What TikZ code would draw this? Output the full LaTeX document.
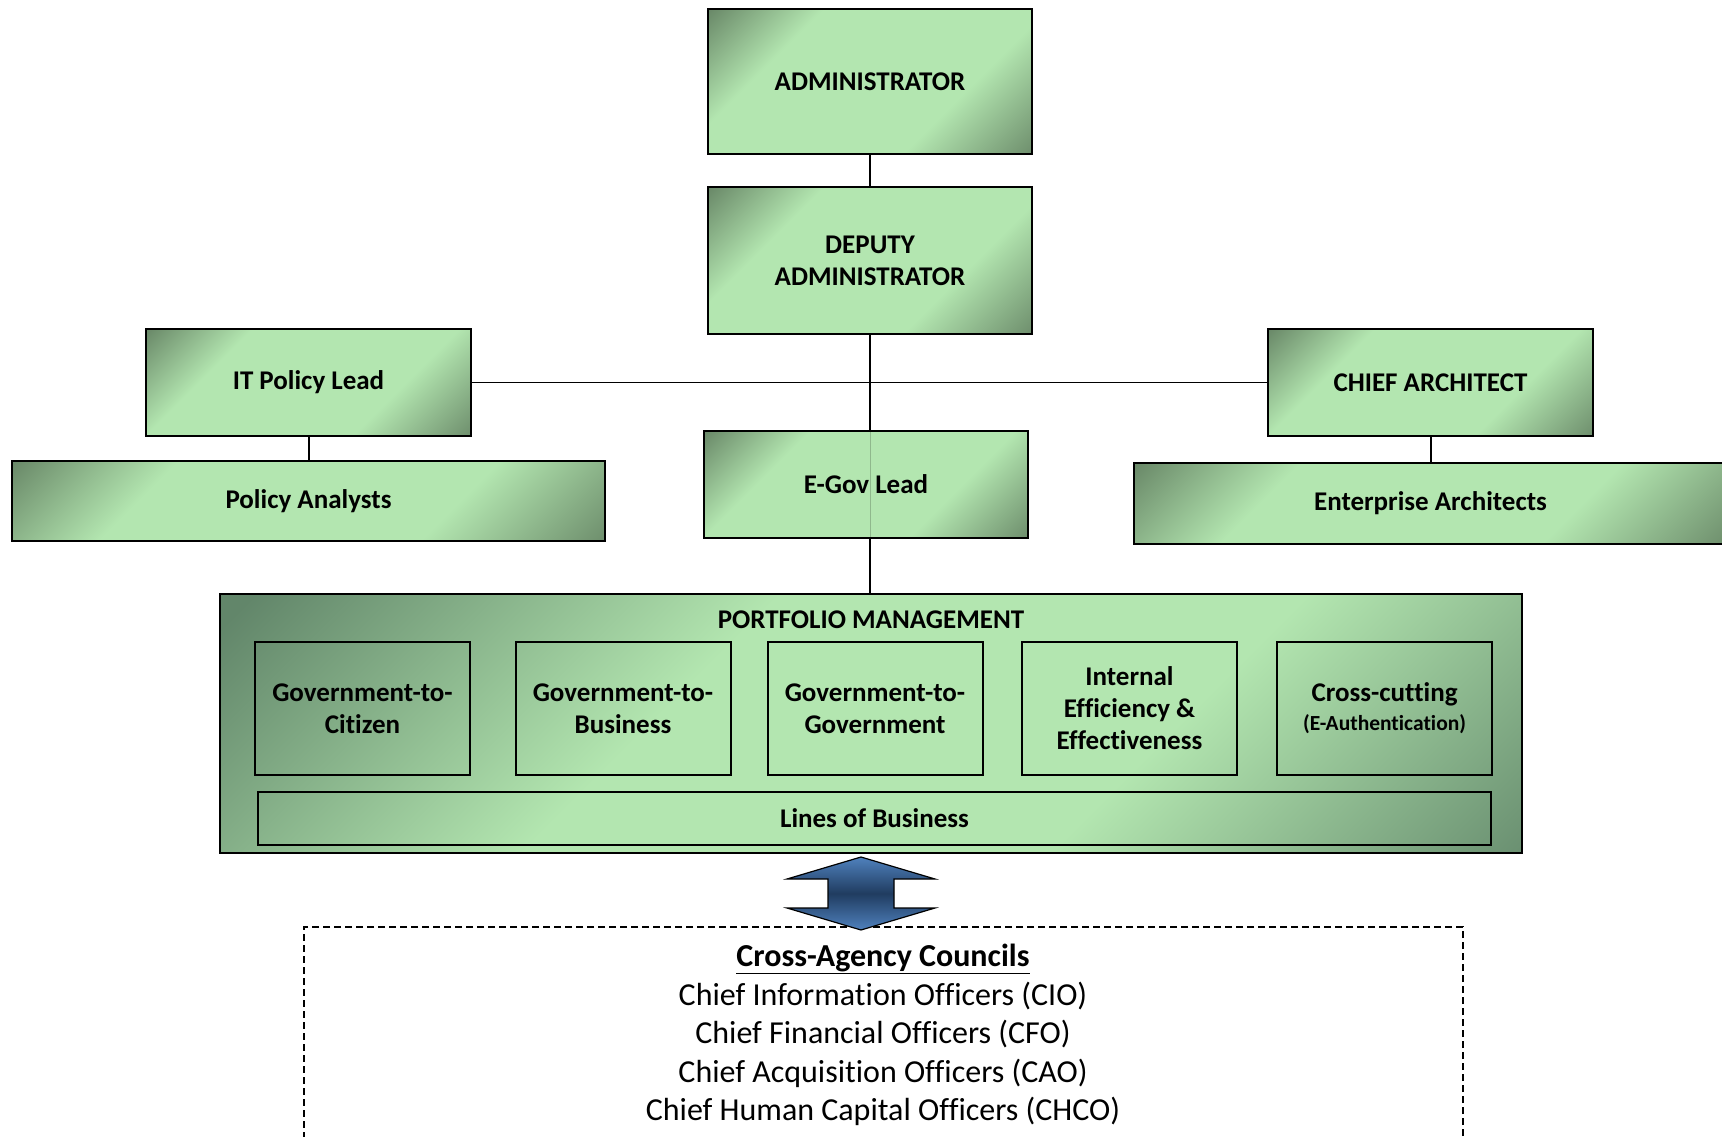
\documentclass[tikz,border=0pt]{standalone}
\usepackage{fontspec}
\setmainfont{Carlito}[Ligatures=NoCommon]
\usetikzlibrary{positioning, calc, backgrounds}

\definecolor{boxLight} {HTML}{B3E6B0}
\definecolor{boxDark}  {HTML}{5E7A5D}
\definecolor{pmDark}   {HTML}{62866A}
\definecolor{arrowBlue}{HTML}{4F81BD}
\definecolor{arrowDeep}{HTML}{203C60}

\pgfdeclarehorizontalshading{orgshade}{100bp}{%
  color(0bp)=(boxDark); color(12bp)=(boxDark); color(32bp)=(boxLight);
  color(66bp)=(boxLight); color(90bp)=(boxDark); color(100bp)=(boxDark)}
\pgfdeclarehorizontalshading{pmshade}{100bp}{%
  color(0bp)=(pmDark); color(16bp)=(pmDark); color(40bp)=(boxLight);
  color(64bp)=(boxLight); color(88bp)=(pmDark); color(100bp)=(pmDark)}
\pgfdeclareverticalshading{arrowshade}{100bp}{%
  color(0bp)=(arrowBlue); color(25bp)=(arrowBlue); color(50bp)=(arrowDeep);
  color(75bp)=(arrowBlue); color(100bp)=(arrowBlue)}

\tikzset{
  orgbox/.style={draw=black, line width=2pt, shading=orgshade, shading angle=-45,
    font=\bfseries\fontsize{27}{32}\selectfont, align=center, inner sep=0pt},
  subbox/.style={draw=black, line width=2pt, align=center, inner sep=0pt,
    font=\bfseries\fontsize{27}{32}\selectfont, minimum width=215pt, minimum height=133pt},
  link/.style={line width=2pt, draw=black},
}

\begin{document}
\begin{tikzpicture}[x=1pt, y=-1pt]
  \useasboundingbox (0,0) rectangle (1722,1137);
  \clip (0,0) rectangle (1722,1137);

  % top of the chart
  \node[orgbox, minimum width=324pt, minimum height=145pt] (admin) at (870, 81.5) {ADMINISTRATOR};
  \node[orgbox, minimum width=324pt, minimum height=147pt] (deputy) at (870, 260.5) {DEPUTY\\ADMINISTRATOR};

  % staff leads
  \node[orgbox, minimum width=325pt, minimum height=107pt] (itlead) at (308.5, 382.5) {IT Policy Lead};
  \node[orgbox, minimum width=593pt, minimum height=80pt] (analysts) at (308.5, 501) {Policy Analysts};
  \node[orgbox, minimum width=325pt, minimum height=107pt] (chief) at (1430.5, 382.5) {CHIEF ARCHITECT};
  \node[orgbox, minimum width=593pt, minimum height=81pt] (enterprise) at (1430.5, 503.5) {Enterprise Architects};

  % portfolio management
  \node[draw=black, line width=2pt, shading=pmshade, shading angle=-45,
        minimum width=1302pt, minimum height=259pt] (portfolio) at (871, 723.5) {};
  \node[orgbox, minimum width=324pt, minimum height=107pt] (egov) at (866, 484) {E-Gov Lead};
  \draw[line width=1pt, draw=black, opacity=0.2] (deputy.south |- egov.north) -- (deputy.south |- egov.south);
  \node[font=\bfseries\fontsize{27}{32}\selectfont] (pmTitle) at (871, 620) {PORTFOLIO MANAGEMENT};
  \foreach \cx/\name/\txt in {362.5/gtc/{Government-to-\\Citizen},
      623/gtb/{Government-to-\\Business},
      875/gtg/{Government-to-\\Government},
      1129.5/iee/{Internal\\Efficiency \&\\Effectiveness},
      1384.5/xcut/{Cross-cutting\\[-3pt]{\fontsize{21.5}{26}\selectfont(E-Authentication)}}}{
    \node[subbox] (\name) at (\cx, 708.5) {\txt};
  }
  \node[draw=black, line width=2pt, minimum width=1233pt, minimum height=53pt,
        font=\bfseries\fontsize{27}{32}\selectfont] (lob) at (874.5, 818.5) {Lines of Business};

  % councils
  \node[draw=black, line width=1.5pt, dash pattern=on 7pt off 4pt,
        minimum width=1159pt, minimum height=260pt] (councils) at (883.5, 1057) {};
  \node[align=center, font=\fontsize{32}{38.5}\selectfont] (councilsText) at (883, 1035)
    {\underline{\textbf{Cross-Agency Councils}}\\
     Chief Information Officers (CIO)\\
     Chief Financial Officers (CFO)\\
     Chief Acquisition Officers (CAO)\\
     Chief Human Capital Officers (CHCO)};

  % two-way block arrow
  \coordinate (arrowMid) at (861, 893.5);
  \shade[shading=arrowshade, draw=black, line width=1.2pt]
    ($(arrowMid)+(0,-36.5)$) -- ++(74,22) -- ++(-41,0) -- ++(0,29) -- ++(41,0)
    -- ++(-74,22) -- ++(-74,-22) -- ++(41,0) -- ++(0,-29) -- ++(-41,0) -- cycle;

  \begin{scope}[on background layer]
    \draw[link] (admin) -- (deputy);
    \draw[link] (deputy.south) -- (deputy.south |- portfolio.north);
    \draw[link, line width=1.5pt] (itlead) -- (chief);
    \draw[link] (itlead) -- (analysts);
    \draw[link] (chief) -- (enterprise);
  \end{scope}
\end{tikzpicture}
\end{document}
